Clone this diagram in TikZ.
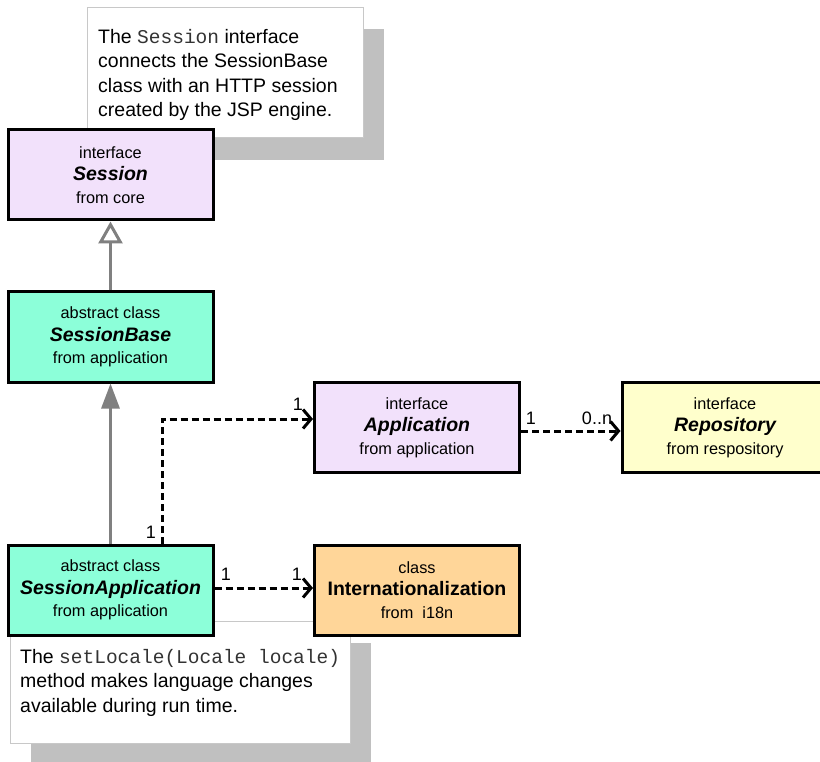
\documentclass[tikz,border=0pt]{standalone}
\usepackage{fontspec}
\setmainfont{Liberation Sans}
\setmonofont{Liberation Mono}
\usetikzlibrary{arrows.meta}

\definecolor{ifacefill}{HTML}{F2E1FB}
\definecolor{classfill}{HTML}{8CFFD9}
\definecolor{repofill}{HTML}{FFFFCC}
\definecolor{i18nfill}{HTML}{FFD699}
\definecolor{shadowgray}{HTML}{C0C0C0}
\definecolor{noteedge}{HTML}{C8C8C8}
\definecolor{linkgray}{HTML}{808080}
\definecolor{codegray}{HTML}{333333}

\newcommand{\umlname}[1]{{\fontsize{19.5}{22.5}\selectfont\bfseries\itshape #1}}
\newcommand{\codetext}[1]{{\color{codegray}\texttt{#1}}}

\tikzset{
  classbox/.style={draw=black, line width=3pt, minimum width=205pt, minimum height=90pt,
    inner sep=0pt, align=center, font=\fontsize{16.3}{22.5}\selectfont},
  notebox/.style={draw=noteedge, line width=1pt, fill=white},
  noteshadow/.style={fill=shadowgray, draw=none},
  notetext/.style={anchor=north west, inner sep=0pt, align=left,
    font=\fontsize{19.5}{24.5}\selectfont},
  gen/.style={draw=linkgray, line width=3pt,
    -{Triangle[open, length=22pt, width=24pt, fill=white]}},
  genfilled/.style={draw=linkgray, line width=3pt,
    -{Triangle[length=25pt, width=18pt, fill=linkgray]}},
  dep/.style={draw=black, line width=3pt, dash pattern=on 7pt off 4pt,
    -{Straight Barb[length=8pt, width=19pt]}},
  mult/.style={font=\fontsize{18}{18}\selectfont, inner sep=0pt},
}

\begin{document}
\begin{tikzpicture}[x=1pt, y=-1pt]
  \useasboundingbox (0,0) rectangle (820,762);
  \clip (0,0) rectangle (820,762);

  % note on the Session interface
  \fill[noteshadow] (108,29) rectangle (384,160);
  \draw[notebox] (87,8) rectangle (363,138);
  \node[notetext] (note1) at (98,29)
    {The \codetext{Session} interface\\
     connects the SessionBase\\
     class with an HTTP session\\
     created by the JSP engine.};

  % note on setLocale
  \fill[noteshadow] (31,643) rectangle (371,766);
  \draw[notebox] (10,621) rectangle (350,743);
  \node[notetext] (note2) at (20,649)
    {The \codetext{setLocale(Locale locale)}\\
     method makes language changes\\
     available during run time.};

  % classes and interfaces
  \node[classbox, fill=ifacefill] (session) at (110.5,175)
    {interface\\ \umlname{Session}\\ from core};
  \node[classbox, fill=classfill] (sbase) at (110.5,337)
    {abstract class\\ \umlname{SessionBase}\\ from application};
  \node[classbox, fill=classfill] (sapp) at (110.5,590)
    {abstract class\\ \umlname{SessionApplication}\\ from application};
  \node[classbox, fill=ifacefill] (app) at (417,427.5)
    {interface\\ \umlname{Application}\\ from application};
  \node[classbox, fill=repofill, minimum width=206pt] (repo) at (725,427.5)
    {interface\\ \umlname{Repository}\\ from respository};
  \node[classbox, fill=i18nfill] (intl) at (417,590)
    {class\\ {\fontsize{19.5}{22.5}\selectfont\bfseries Internationalization}\\ from\ \ i18n};

  % generalisation
  \draw[gen] (sbase.north) -- (session.south);
  \draw[genfilled] (sapp.north) -- (sbase.south);

  % dependencies
  \draw[dep] ([xshift=51.5pt]sapp.north) |- ([yshift=8.5pt]app.west);
  \draw[dep] ([yshift=-3.5pt]app.east) -- ([yshift=-3.5pt]repo.west);
  \draw[dep] ([yshift=2pt]sapp.east) -- ([yshift=2pt]intl.west);

  % multiplicities
  \node[mult] (m1) at (298,404) {1};
  \node[mult] (m2) at (151,532) {1};
  \node[mult] (m3) at (226,574) {1};
  \node[mult] (m4) at (297,574) {1};
  \node[mult] (m5) at (531,418) {1};
  \node[mult] (m6) at (597,418) {0..n};
\end{tikzpicture}
\end{document}
